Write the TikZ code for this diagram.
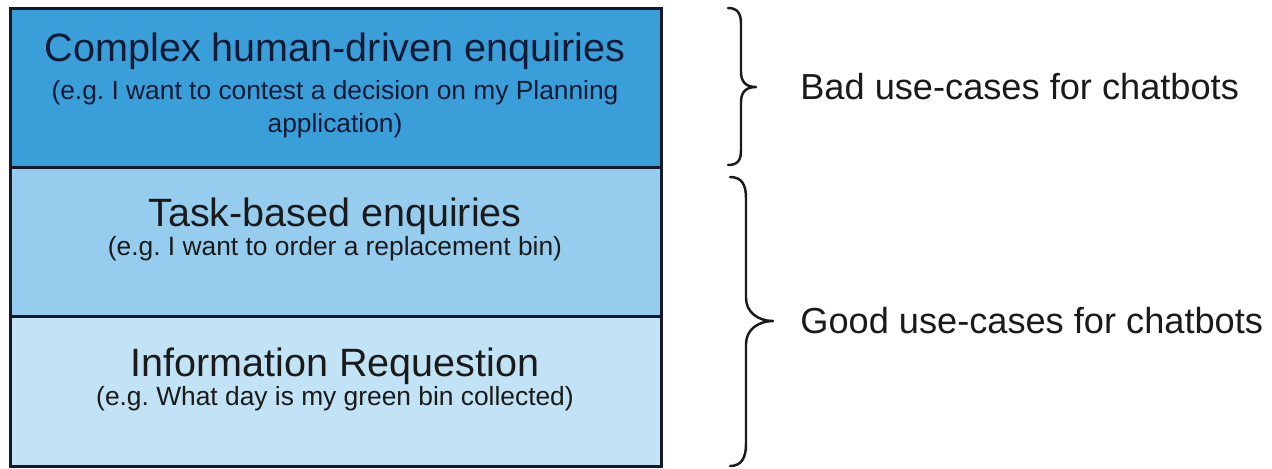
\documentclass[tikz,border=0pt]{standalone}
\usepackage{fontspec}
\setmainfont{Liberation Sans}
\frenchspacing
\definecolor{tierA}{HTML}{3A9FD9}
\definecolor{tierB}{HTML}{96CDEF}
\definecolor{tierC}{HTML}{C2E2F5}
\definecolor{edge}{HTML}{15192A}
\definecolor{inkA}{HTML}{0E1A36}
\definecolor{inkB}{HTML}{1A1A1A}
\begin{document}
\begin{tikzpicture}[x=0.02cm,y=-0.02cm,
  tier/.style={draw=edge,line width=1.7pt,minimum width=13.02cm,inner sep=0pt,anchor=north west},
  heading/.style={font=\fontsize{22.5}{26}\selectfont,inner sep=0pt},
  example/.style={font=\fontsize{15}{19}\selectfont,inner sep=0pt,align=center},
  verdict/.style={font=\fontsize{20.6}{24}\selectfont,text=inkB,inner sep=0pt,anchor=west},
  bracepath/.style={draw=inkB,line width=1.4pt,line cap=round,line join=round}]
\useasboundingbox (0,0) rectangle (1272,468);
% three stacked tiers
\node[tier,fill=tierA,minimum height=3.18cm] (top) at (9,7) {};
\node[tier,fill=tierB,minimum height=2.98cm] (mid) at (9,166) {};
\node[tier,fill=tierC,minimum height=3.0cm] (low) at (9,315) {};
% tier texts
\node[heading,text=inkA] (t1) at (335,51) {Complex human-driven enquiries};
\node[example,text=inkA] (s1) at (335,109) {(e.g. I want to contest a decision on my Planning\\application)};
\node[heading,text=inkB] (t2) at (335,216) {Task-based enquiries};
\node[example,text=inkB] (s2) at (335,249) {(e.g. I want to order a replacement bin)};
\node[heading,text=inkB] (t3) at (335,366) {Information Requestion};
\node[example,text=inkB] (s3) at (335,399) {(e.g. What day is my green bin collected)};
% braces
\draw[bracepath] (728,8) .. controls (738,8) and (741,14) .. (741,24) -- (741,72)
  .. controls (741,82) and (746,87) .. (756,87)
  .. controls (746,87) and (741,92) .. (741,102) -- (741,150)
  .. controls (741,160) and (738,165) .. (728,165);
\draw[bracepath] (730,177) .. controls (742,177) and (746,185) .. (746,198) -- (746,298)
  .. controls (746,312) and (758,321) .. (773,321)
  .. controls (758,321) and (746,330) .. (746,344) -- (746,444)
  .. controls (746,457) and (742,466) .. (730,466);
% verdicts
\node[verdict] (bad) at (800,87) {Bad use-cases for chatbots};
\node[verdict] (good) at (800,321) {Good use-cases for chatbots};
\end{tikzpicture}
\end{document}
